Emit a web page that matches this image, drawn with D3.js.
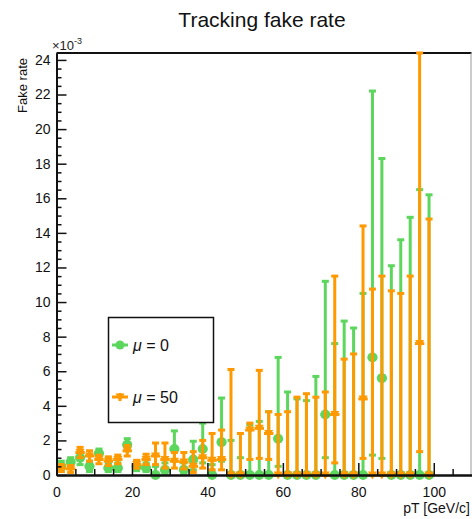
<!DOCTYPE html>
<html>
<head>
<meta charset="utf-8">
<script src="https://cdn.jsdelivr.net/npm/d3@7"></script>
<style>
  body { margin: 0; background: #fff; }
  svg { display: block; font-family: "Liberation Sans", Arial, sans-serif; }
</style>
</head>
<body>
<div id="chart"></div>
<script>
// pT bins (2.5 GeV/c wide), values in units of 1e-3
const binCenters = [1.25, 3.75, 6.25, 8.75, 11.25, 13.75, 16.25, 18.75, 21.25, 23.75,
                    26.25, 28.75, 31.25, 33.75, 36.25, 38.75, 41.25, 43.75, 46.25, 48.75,
                    51.25, 53.75, 56.25, 58.75, 61.25, 63.75, 66.25, 68.75, 71.25, 73.75,
                    76.25, 78.75, 81.25, 83.75, 86.25, 88.75, 91.25, 93.75, 96.25, 98.75];
const binHalfWidth = 1.25;

// mu = 0
const mu0Value = [0.5, 0.75, 1.0, 0.5, 1.25, 0.4, 0.4, 1.75, 0.5, 0.4,
                  0, 0.3, 1.5, 0.3, 0.9, 1.5, 0, 1.9, 0, 0,
                  0, 0, 0, 2.1, 0, 0, 0, 0, 3.5, 0,
                  0, 0, 0, 6.8, 5.6, 0, 0, 0, 0, 0];
const mu0Low   = [0.2, 0.4, 0.6, 0.2, 0.9, 0.2, 0.2, 1.4, 0.25, 0.2,
                  0, 0.1, 0.8, 0.1, 0.3, 0.7, 0, 0.8, 0, 0,
                  0, 0, 0, 0.5, 0, 0, 0, 0, 1.0, 0,
                  0, 0, 0, 1.15, 0.96, 0, 0, 0, 0, 0];
const mu0High  = [0.8, 1.0, 1.3, 0.8, 1.5, 0.7, 0.7, 2.1, 0.8, 0.7,
                  0.5, 0.7, 2.55, 0.7, 1.95, 3.0, 0.6, 4.45, 2.0, 1.0,
                  2.9, 3.1, 3.66, 6.8, 4.8, 4.4, 4.3, 5.7, 11.2, 7.6,
                  8.9, 8.5, 10.5, 22.2, 18.3, 12.1, 13.6, 14.9, 16.5, 16.2];

// mu = 50
const mu50Value = [0.4, 0.35, 1.3, 1.1, 0.9, 0.8, 0.9, 1.4, 0.6, 0.9,
                   1.1, 0.9, 0.8, 0.75, 0.5, 1.0, 0.85, 0.9, 0, 0,
                   2.6, 2.7, 2.4, 0, 0, 0, 0, 0, 0, 3.5,
                   0, 0, 4.4, 0, 0, 0, 0, 0, 7.6, 0];
const mu50Low   = [0.2, 0.15, 1.0, 0.8, 0.65, 0.55, 0.65, 1.1, 0.4, 0.6,
                   0.6, 0.4, 0.4, 0.35, 0.15, 0.4, 0.3, 0.3, 0, 0,
                   0.9, 0.96, 0.9, 0, 0, 0, 0, 0, 0, 0.7,
                   0, 0, 0.96, 0, 0, 0, 0, 0, 1.35, 0];
const mu50High  = [0.6, 0.55, 1.6, 1.4, 1.15, 1.05, 1.15, 1.7, 0.85, 1.2,
                   1.85, 1.85, 1.3, 1.3, 1.35, 2.0, 2.4, 2.6, 6.1, 2.4,
                   3.0, 6.05, 3.66, 3.5, 3.66, 4.5, 4.7, 4.5, 4.8, 11.5,
                   6.7, 7.0, 14.4, 10.75, 11.5, 10.65, 10.5, 11.5, 24.4, 14.8];

const xTicks = [0, 20, 40, 60, 80, 100];
const xMinorTicks = [5, 10, 15, 25, 30, 35, 45, 50, 55, 65, 70, 75, 85, 90, 95, 105];
const yTicks = [0, 2, 4, 6, 8, 10, 12, 14, 16, 18, 20, 22, 24];
const yMinorTicks = d3.range(0, 24.5, 0.5).filter(v => v % 2 !== 0);

const series = [
  {label: "0", color: "#5cd65c", marker: "circle", value: mu0Value, low: mu0Low, high: mu0High},
  {label: "50", color: "#ff9900", marker: "triangle", value: mu50Value, low: mu50Low, high: mu50High}
];

const W = 472, H = 519;
const svg = d3.select("#chart").append("svg")
  .attr("width", W).attr("height", H);

const x = d3.scaleLinear().domain([0, 110]).range([56.5, 471.5]);
const y = d3.scaleLinear().domain([0, 24.4]).range([475, 53]);

// title
svg.append("text")
  .attr("x", 262).attr("y", 27)
  .attr("text-anchor", "middle")
  .attr("font-size", "21px")
  .attr("fill", "#111")
  .text("Tracking fake rate");

// frame (top + right)
svg.append("line").attr("x1", x(0)).attr("x2", x(110)).attr("y1", y(24.4)).attr("y2", y(24.4))
  .attr("stroke", "#111").attr("stroke-width", 2);
svg.append("line").attr("x1", x(110) - 0.5).attr("x2", x(110) - 0.5).attr("y1", y(24.4)).attr("y2", y(0))
  .attr("stroke", "#999").attr("stroke-width", 1);

// data
const plot = svg.append("g");
const dark = "#222";

series.forEach(s => {
  const g = plot.append("g");
  binCenters.forEach((c, i) => {
    const cx = x(c);
    // horizontal (bin width) bar
    g.append("line")
      .attr("x1", x(c - binHalfWidth)).attr("x2", x(c + binHalfWidth))
      .attr("y1", y(s.value[i])).attr("y2", y(s.value[i]))
      .attr("stroke", s.color).attr("stroke-width", 3);
    // vertical error bar
    g.append("line")
      .attr("x1", cx).attr("x2", cx)
      .attr("y1", y(s.low[i])).attr("y2", y(s.high[i]))
      .attr("stroke", s.color).attr("stroke-width", 3);
    // caps
    [s.low[i], s.high[i]].forEach(v => {
      g.append("rect")
        .attr("x", cx - 3.5).attr("y", y(v) - 1.5)
        .attr("width", 7).attr("height", 3)
        .attr("fill", s.color);
    });
    // marker
    if (s.marker === "circle") {
      g.append("circle")
        .attr("cx", cx).attr("cy", y(s.value[i])).attr("r", 5)
        .attr("fill", s.color);
    } else {
      const cy = y(s.value[i]);
      g.append("path")
        .attr("d", `M${cx - 4.5},${cy - 3.5}L${cx + 4.5},${cy - 3.5}L${cx},${cy + 4.5}Z`)
        .attr("fill", s.color);
    }
  });
});

// axes
const yAxis = svg.append("g")
  .attr("transform", `translate(${x(0)},0)`)
  .call(d3.axisLeft(y).tickValues(yTicks).tickSize(-10).tickSizeOuter(0).tickPadding(-2));
svg.append("g")
  .attr("transform", `translate(${x(0)},0)`)
  .call(d3.axisLeft(y).tickValues(yMinorTicks).tickSize(-5).tickSizeOuter(0).tickFormat(""));
yAxis.selectAll(".tick text").attr("x", -6).attr("font-size", "14px").attr("fill", "#111")
  .attr("font-family", "Liberation Sans, Arial, sans-serif");

const xAxis = svg.append("g")
  .attr("transform", `translate(0,${y(0)})`)
  .call(d3.axisBottom(x).tickValues(xTicks).tickSize(-12).tickSizeOuter(0));
svg.append("g")
  .attr("transform", `translate(0,${y(0)})`)
  .call(d3.axisBottom(x).tickValues(xMinorTicks).tickSize(-6).tickSizeOuter(0).tickFormat(""));
xAxis.selectAll(".tick text").attr("y", 12).attr("dy", "0.71em").attr("font-size", "14px").attr("fill", "#111")
  .attr("font-family", "Liberation Sans, Arial, sans-serif");

svg.selectAll(".domain").attr("stroke", "#111").attr("stroke-width", 2);
svg.selectAll(".tick line").attr("stroke", "#111").attr("stroke-width", 1.5);

// exponent
const expo = svg.append("text").attr("x", 52).attr("y", 50).attr("font-size", "13px").attr("fill", "#222");
expo.append("tspan").text("\u00d710");
expo.append("tspan").attr("dy", -6).attr("font-size", "9px").text("-3");

// axis titles
svg.append("text")
  .attr("transform", "translate(27,58) rotate(-90)")
  .attr("text-anchor", "end")
  .attr("font-size", "13px")
  .attr("fill", "#111")
  .text("Fake rate");
svg.append("text")
  .attr("x", 470).attr("y", 513)
  .attr("text-anchor", "end")
  .attr("font-size", "14px")
  .attr("fill", "#111")
  .text("pT [GeV/c]");

// legend
const leg = svg.append("g");
leg.append("rect")
  .attr("x", 108.5).attr("y", 317.5).attr("width", 105).attr("height", 105)
  .attr("fill", "#fff").attr("stroke", "#111").attr("stroke-width", 1.5);
series.forEach((s, i) => {
  const ly = 345 + i * 52;
  leg.append("line").attr("x1", 112).attr("x2", 128).attr("y1", ly).attr("y2", ly)
    .attr("stroke", s.color).attr("stroke-width", 3);
  leg.append("line").attr("x1", 120).attr("x2", 120).attr("y1", ly - 4).attr("y2", ly + 4)
    .attr("stroke", s.color).attr("stroke-width", 3);
  if (s.marker === "circle") {
    leg.append("circle").attr("cx", 120).attr("cy", ly).attr("r", 4.5).attr("fill", s.color);
  } else {
    leg.append("path").attr("d", `M115.5,${ly - 3.5}L124.5,${ly - 3.5}L120,${ly + 4.5}Z`).attr("fill", s.color);
  }
  const t = leg.append("text").attr("x", 133).attr("y", ly + 6).attr("font-size", "16px").attr("fill", "#111");
  t.append("tspan").attr("font-style", "italic").text("\u03bc");
  t.append("tspan").text(" = " + s.label);
});
</script>
</body>
</html>
